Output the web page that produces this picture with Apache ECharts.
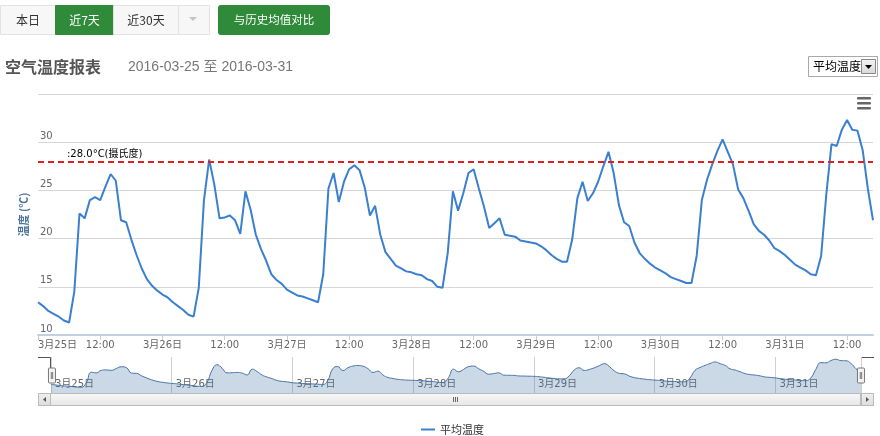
<!DOCTYPE html>
<html><head><meta charset="utf-8">
<script src="https://cdn.jsdelivr.net/npm/echarts@6/dist/echarts.min.js"></script>
<style>html,body{margin:0;padding:0;background:#fff}#c{width:880px;height:436px}</style>
</head><body><div id="c"></div>
<script>
// ---- data ----
const chartTitle = '空气温度报表';
const dateRange = ['2016-03-25', '2016-03-31'];
const seriesName = '平均温度';
const yAxisName = '温度 (℃)';
const startDate = [2016, 3, 25]; // year, month, day (hourly readings start at 00:00)
const tempValues = [
13.4,13.0,12.5,12.2,11.9,11.5,11.3,14.5,22.6,22.1,
24.0,24.3,24.0,25.4,26.7,26.0,21.9,21.7,19.9,18.3,
16.9,15.8,15.1,14.6,14.2,13.9,13.4,13.0,12.6,12.1,
11.9,14.9,24.0,28.2,25.6,22.1,22.2,22.4,21.9,20.5,
24.9,23.0,20.4,18.9,17.7,16.3,15.7,15.3,14.7,14.4,
14.1,14.0,13.8,13.6,13.4,16.3,25.2,26.8,23.8,25.9,
27.2,27.6,27.1,25.3,22.4,23.4,20.4,18.6,17.9,17.2,
16.9,16.6,16.5,16.3,16.2,15.8,15.6,15.0,14.9,18.5,
24.9,22.9,24.7,26.8,27.2,25.2,23.3,21.1,21.6,22.1,
20.4,20.3,20.2,19.8,19.7,19.6,19.5,19.2,18.8,18.3,
17.9,17.6,17.6,19.9,24.2,25.9,23.9,24.7,25.9,27.5,
29.0,26.8,23.5,21.7,21.3,19.6,18.5,17.9,17.4,17.0,
16.7,16.4,16.0,15.8,15.6,15.4,15.4,18.2,24.0,26.1,
27.7,29.1,30.3,29.0,27.7,25.1,24.2,22.9,21.5,20.8,
20.4,19.8,19.0,18.7,18.3,17.8,17.3,17.0,16.7,16.3,
16.2,18.2,24.6,29.8,29.6,31.3,32.3,31.3,31.2,29.2,
25.2,21.9
];
const thresholdValue = 28;
const thresholdLabel = ':28.0°C(摄氏度)';
const yTicks = [10, 15, 20, 25, 30, 35];
const noonLabel = '12:00';
const buttonLabels = ['本日', '近7天', '近30天'];
const compareLabel = '与历史均值对比';
const selectLabel = '平均温度';

// ---- build ----
const HOUR = 3600 * 1000;
const t0 = Date.UTC(startDate[0], startDate[1] - 1, startDate[2], 0, 0, 0);
const seriesData = tempValues.map((v, i) => [i, v]); // x = hours since start
const hMax = tempValues.length - 1;
const FONT = '"DejaVu Sans","Noto Sans CJK SC",sans-serif';
const CJK = '"Noto Sans CJK SC",sans-serif';
const dayLabel = (h) => { const d = new Date(t0 + h * HOUR); return (d.getUTCMonth() + 1) + '月' + d.getUTCDate() + '日'; };
const mainFmt = (h) => (h % 24 === 0 ? dayLabel(h) : noonLabel);

const grad = (a, b) => new echarts.graphic.LinearGradient(0, 0, 0, 1, [{offset: 0, color: a}, {offset: 1, color: b}]);
const green = '#2f8a3a';
const btnX = [0.5, 55.5, 113.5];
const btnW = [55, 58, 65];
const graphics = [];
buttonLabels.forEach((t, i) => {
  const active = i === 1;
  graphics.push({type: 'rect', shape: {x: btnX[i], y: 5.5, width: btnW[i], height: 29},
    style: {fill: active ? green : '#f7f7f7', stroke: active ? green : '#e2e2e2', lineWidth: 1}});
  graphics.push({type: 'text', x: btnX[i] + btnW[i] / 2, y: 20,
    style: {text: t, fill: active ? '#fff' : '#333', font: '12px ' + CJK, align: 'center', verticalAlign: 'middle'}});
});
graphics.push({type: 'rect', shape: {x: 178.5, y: 5.5, width: 31, height: 29}, style: {fill: '#f7f7f7', stroke: '#e2e2e2'}});
graphics.push({type: 'polygon', shape: {points: [[189, 17], [197, 17], [193, 21]]}, style: {fill: '#c4c4c4'}});
graphics.push({type: 'rect', shape: {x: 218, y: 5, width: 112, height: 30, r: 3}, style: {fill: green}});
graphics.push({type: 'text', x: 274, y: 20, style: {text: compareLabel, fill: '#fff', font: '11.5px ' + CJK, align: 'center', verticalAlign: 'middle'}});
// select box
graphics.push({type: 'rect', shape: {x: 808.5, y: 56.5, width: 69, height: 20}, style: {fill: '#fff', stroke: '#a9a9a9'}});
graphics.push({type: 'text', x: 813, y: 66.5, style: {text: selectLabel, fill: '#000', font: '12px ' + CJK, align: 'left', verticalAlign: 'middle'}});
graphics.push({type: 'rect', shape: {x: 861.5, y: 59.5, width: 14, height: 14}, style: {fill: grad('#f4f4f4', '#d8d8d8'), stroke: '#888'}});
graphics.push({type: 'polygon', shape: {points: [[865, 65], [872, 65], [868.5, 69]]}, style: {fill: '#000'}});
// menu icon
[97, 102, 107].forEach(y => graphics.push({type: 'rect', shape: {x: 857, y: y, width: 14, height: 2.5, r: 1}, style: {fill: '#666'}}));
// navigator outline
graphics.push({type: 'polyline', shape: {points: [[38, 357.5], [50.5, 357.5], [50.5, 368]]}, style: {stroke: '#555', lineWidth: 1, fill: null}});
graphics.push({type: 'polyline', shape: {points: [[861.5, 368], [861.5, 357.5], [874, 357.5]]}, style: {stroke: '#555', lineWidth: 1, fill: null}});
// scrollbar
graphics.push({type: 'rect', shape: {x: 38.5, y: 393.5, width: 835, height: 12}, style: {fill: grad('#f2f2f2', '#e0e0e0'), stroke: '#bbb'}});
graphics.push({type: 'rect', shape: {x: 50.5, y: 393.5, width: 810, height: 12}, style: {fill: grad('#f8f8f8', '#e6e6e6'), stroke: '#bbb'}});
graphics.push({type: 'rect', shape: {x: 38.5, y: 393.5, width: 12, height: 12}, style: {fill: grad('#f0f0f0', '#dcdcdc'), stroke: '#bbb'}});
graphics.push({type: 'rect', shape: {x: 861.5, y: 393.5, width: 12, height: 12}, style: {fill: grad('#f0f0f0', '#dcdcdc'), stroke: '#bbb'}});
graphics.push({type: 'polygon', shape: {points: [[46, 397], [46, 402], [43, 399.5]]}, style: {fill: '#555'}});
graphics.push({type: 'polygon', shape: {points: [[866, 397], [866, 402], [869, 399.5]]}, style: {fill: '#555'}});
[453.5, 455.5, 457.5].forEach(x => graphics.push({type: 'line', shape: {x1: x, y1: 397, x2: x, y2: 402}, style: {stroke: '#666', lineWidth: 1}}));

const chart = echarts.init(document.getElementById('c'));
chart.setOption({
  animation: false,
  title: [
    {text: chartTitle, left: 5, top: 59, padding: 0, textStyle: {fontSize: 16, fontWeight: 'bold', color: '#555', fontFamily: CJK}},
    {text: dateRange[0] + ' 至 ' + dateRange[1], left: 128, top: 60, padding: 0, textStyle: {fontSize: 14, fontWeight: 'normal', color: '#777', fontFamily: '"Liberation Sans","Noto Sans CJK SC",sans-serif'}}
  ],
  legend: {data: [seriesName], left: 416, top: 419, icon: 'rect', itemWidth: 14, itemHeight: 2, itemGap: 10,
    textStyle: {fontSize: 11, color: '#333', fontFamily: CJK}},
  grid: [
    {left: 38, right: 7, top: 94, height: 241},
    {left: 51, right: 19, top: 357, height: 36}
  ],
  xAxis: [
    {type: 'value', gridIndex: 0, min: 0, max: hMax, interval: 12,
      axisLine: {lineStyle: {color: '#C0D0E0', width: 2}},
      axisTick: {show: true, length: 5, lineStyle: {color: '#C0D0E0'}},
      splitLine: {show: false},
      axisLabel: {color: '#666', fontSize: 10, fontFamily: FONT, margin: 5, formatter: mainFmt, alignMinLabel: 'left', showMaxLabel: false, hideOverlap: false}},
    {type: 'value', gridIndex: 1, min: 0, max: hMax, interval: 24,
      axisLine: {show: false}, axisTick: {show: false},
      splitLine: {show: true, lineStyle: {color: '#cfcfcf'}},
      axisLabel: {inside: true, margin: 4, align: 'left', padding: [0, 0, 0, 4], color: '#666', fontSize: 10, fontFamily: FONT, formatter: dayLabel, showMaxLabel: false, hideOverlap: false}}
  ],
  yAxis: [
    {type: 'value', gridIndex: 0, min: yTicks[0], max: yTicks[yTicks.length - 1], interval: 5,
      name: yAxisName, nameLocation: 'middle', nameGap: 6,
      nameTextStyle: {color: '#4d759e', fontWeight: 'bold', fontSize: 11, fontFamily: CJK},
      axisLine: {show: false}, axisTick: {show: false},
      splitLine: {lineStyle: {color: '#d6d6d6'}},
      axisLabel: {inside: true, margin: 2, verticalAlign: 'bottom', padding: [0, 0, 1, 0], color: '#666', fontSize: 10, fontFamily: FONT, showMaxLabel: false}},
    {type: 'value', gridIndex: 1, min: 7, max: 34, show: false}
  ],
  dataZoom: [{
    type: 'slider', xAxisIndex: 0, start: 0, end: 100, left: 50, right: 19, top: 358, height: 35,
    showDetail: false, showDataShadow: false, brushSelect: false,
    borderColor: 'transparent', backgroundColor: 'transparent', fillerColor: 'rgba(0,0,0,0)',
    handleIcon: 'path://M1,0 h5 a1,1 0 0 1 1,1 v13 a1,1 0 0 1 -1,1 h-5 a1,1 0 0 1 -1,-1 v-13 a1,1 0 0 1 1,-1 Z M2.8,4 v7 M4.2,4 v7',
    handleSize: 15,
    handleStyle: {color: '#f4f4f4', borderColor: '#777', borderWidth: 1},
    moveHandleSize: 0, moveHandleStyle: {opacity: 0},
    emphasis: {handleStyle: {color: '#f4f4f4', borderColor: '#777'}, moveHandleStyle: {opacity: 0}}
  }],
  series: [
    {name: seriesName, type: 'line', xAxisIndex: 0, yAxisIndex: 0, data: seriesData,
      showSymbol: false, symbol: 'none', lineStyle: {width: 2, color: '#3a7fd0'}, itemStyle: {color: '#3a7fd0'},
      markLine: {silent: true, symbol: 'none', data: [{yAxis: thresholdValue}],
        lineStyle: {color: '#e02020', type: [6, 4], width: 2},
        label: {formatter: thresholdLabel, position: 'insideStartTop', distance: [29, 2], color: '#000', fontSize: 10, fontFamily: FONT}}},
    {name: 'navigator', type: 'line', xAxisIndex: 1, yAxisIndex: 1, data: seriesData, smooth: true, symbol: 'none', silent: true,
      lineStyle: {width: 1, color: '#4572A7'}, areaStyle: {color: 'rgba(69,114,167,0.4)'}}
  ],
  graphic: graphics
});
</script></body></html>
